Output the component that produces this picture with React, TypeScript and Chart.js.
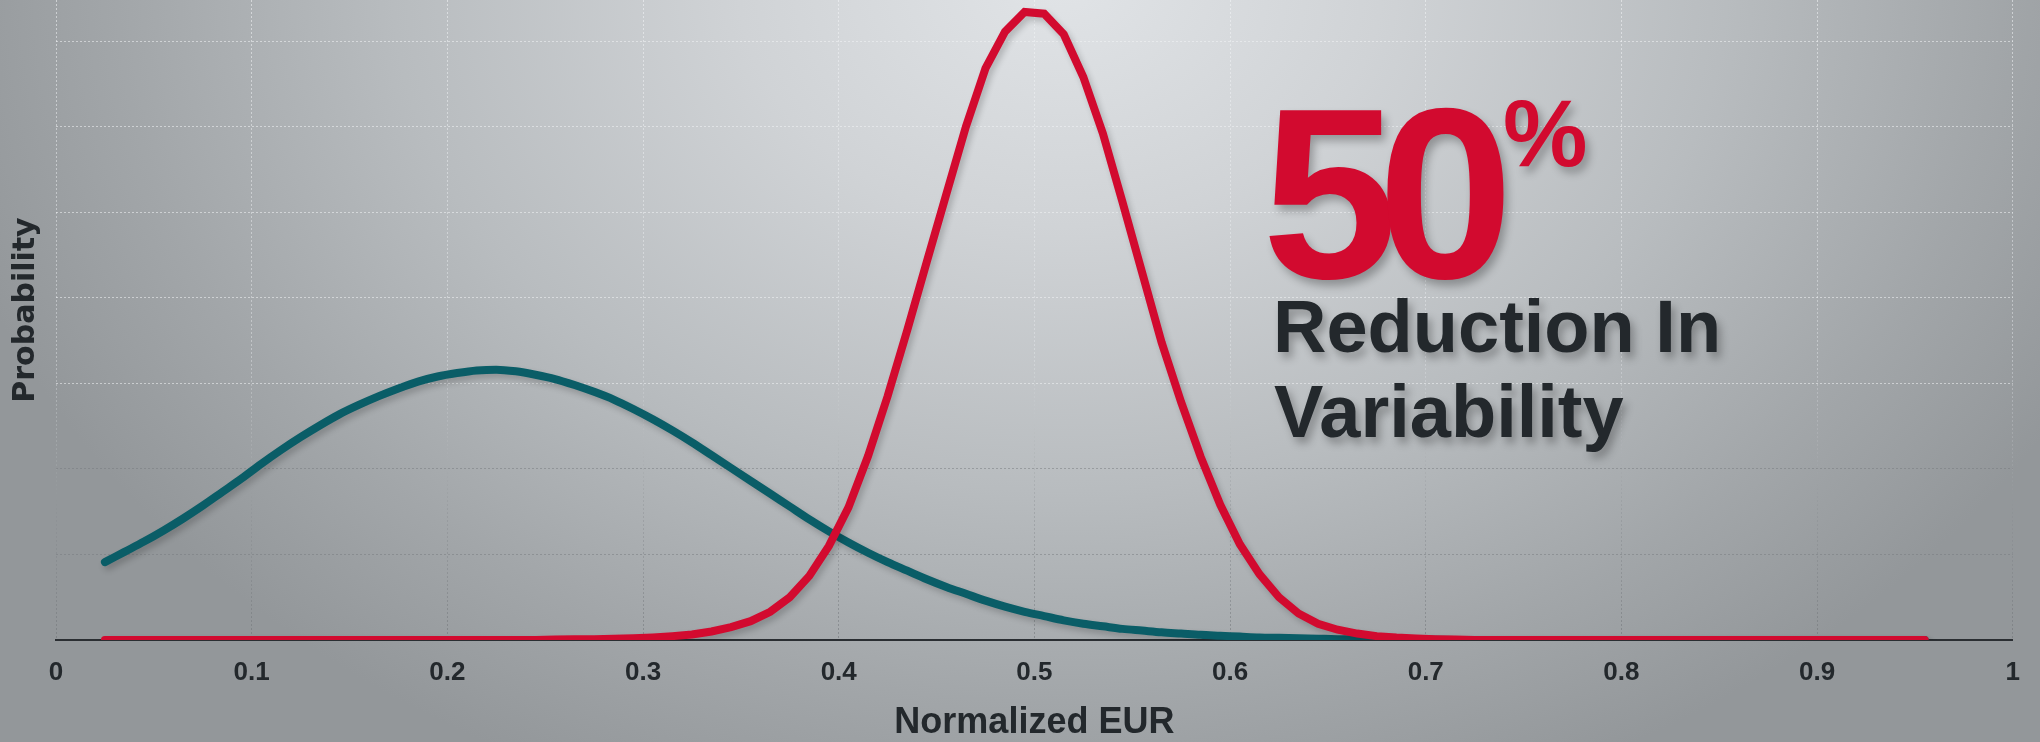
import React, { useEffect, useRef } from "react";
import { Chart, registerables } from "chart.js";

Chart.register(...registerables);

// Normalized EUR sample positions
const xValues = [
  0.025, 0.035, 0.045, 0.055, 0.065, 0.075, 0.085, 0.095, 0.105, 0.115,
  0.125, 0.135, 0.145, 0.155, 0.165, 0.175, 0.185, 0.195, 0.205, 0.215,
  0.225, 0.235, 0.245, 0.255, 0.265, 0.275, 0.285, 0.295, 0.305, 0.315,
  0.325, 0.335, 0.345, 0.355, 0.365, 0.375, 0.385, 0.395, 0.405, 0.415,
  0.425, 0.435, 0.445, 0.455, 0.465, 0.475, 0.485, 0.495, 0.505, 0.515,
  0.525, 0.535, 0.545, 0.555, 0.565, 0.575, 0.585, 0.595, 0.605, 0.615,
  0.625, 0.635, 0.645, 0.655, 0.665, 0.675, 0.685, 0.695, 0.705, 0.715,
  0.725, 0.735, 0.745, 0.755, 0.765, 0.775, 0.785, 0.795, 0.805, 0.815,
  0.825, 0.835, 0.845, 0.855, 0.865, 0.875, 0.885, 0.895, 0.905, 0.915,
  0.925, 0.935, 0.945, 0.955,
];

// Wide (teal) distribution
const tealValues = [
  0.91, 1.03, 1.15, 1.28, 1.42, 1.57, 1.73, 1.89, 2.06, 2.22,
  2.37, 2.51, 2.64, 2.75, 2.85, 2.94, 3.02, 3.08, 3.12, 3.15,
  3.16, 3.14, 3.10, 3.05, 2.98, 2.90, 2.81, 2.70, 2.58, 2.45,
  2.31, 2.16, 2.01, 1.86, 1.71, 1.56, 1.41, 1.27, 1.14, 1.02,
  0.91, 0.81, 0.71, 0.62, 0.54, 0.46, 0.39, 0.33, 0.28, 0.23,
  0.19, 0.16, 0.13, 0.11, 0.09, 0.075, 0.06, 0.05, 0.04, 0.03,
  0.025, 0.02, 0.015, 0.01, 0.008, 0.005, 0.004, 0.003, 0.002, 0.001,
  0, 0, 0, 0, 0, 0, 0, 0, 0, 0,
  0, 0, 0, 0, 0, 0, 0, 0, 0, 0,
  0, 0, 0, 0,
];

// Narrow (red) distribution
const redValues = [
  0, 0, 0, 0, 0, 0, 0, 0, 0, 0,
  0, 0, 0, 0, 0, 0, 0, 0, 0, 0,
  0, 0, 0, 0.005, 0.01, 0.01, 0.015, 0.02, 0.03, 0.045,
  0.065, 0.1, 0.15, 0.22, 0.33, 0.5, 0.75, 1.1, 1.55, 2.15,
  2.85, 3.62, 4.42, 5.21, 6.0, 6.68, 7.11, 7.34, 7.32, 7.08,
  6.58, 5.92, 5.12, 4.3, 3.48, 2.78, 2.14, 1.58, 1.12, 0.77,
  0.5, 0.31, 0.19, 0.12, 0.075, 0.045, 0.028, 0.017, 0.01, 0.005,
  0, 0, 0, 0, 0, 0, 0, 0, 0, 0,
  0, 0, 0, 0, 0, 0, 0, 0, 0, 0,
  0, 0, 0, 0,
];

const xTicks = [0, 0.1, 0.2, 0.3, 0.4, 0.5, 0.6, 0.7, 0.8, 0.9, 1];

const X_TITLE = "Normalized EUR";
const Y_TITLE = "Probability";
const BIG_NUMBER = "50";
const BIG_UNIT = "%";
const CAPTION_LINES = ["Reduction In", "Variability"];

const RED = "#d20a2f";
const TEAL = "#0a5d67";
const DARK = "#23282c";

const shadowPlugin = {
  id: "lineShadow",
  beforeDatasetsDraw(chart: any) {
    const ctx = chart.ctx;
    ctx.save();
    ctx.shadowColor = "rgba(0,0,0,0.2)";
    ctx.shadowBlur = 6;
    ctx.shadowOffsetX = 3;
    ctx.shadowOffsetY = 4;
  },
  afterDatasetsDraw(chart: any) {
    chart.ctx.restore();
  },
};

// y-axis title, placed beside the plot and centred on the visible plot height
const yTitlePlugin = {
  id: "yTitle",
  afterDraw(chart: any) {
    const ctx = chart.ctx;
    ctx.save();
    ctx.translate(34, 310);
    ctx.rotate(-Math.PI / 2);
    ctx.fillStyle = DARK;
    ctx.font = "bold 30px 'DejaVu Sans', Verdana, sans-serif";
    ctx.textAlign = "center";
    ctx.textBaseline = "alphabetic";
    ctx.fillText(Y_TITLE, 0, 0);
    ctx.restore();
  },
};

export default function App() {
  const canvasRef = useRef<HTMLCanvasElement | null>(null);

  useEffect(() => {
    const canvas = canvasRef.current;
    if (!canvas) return;

    const redData = xValues.map((x, i) => ({ x, y: redValues[i] }));
    const tealData = xValues.map((x, i) => ({ x, y: tealValues[i] }));

    const chart = new Chart(canvas, {
      type: "line",
      data: {
        datasets: [
          {
            label: "Improved",
            data: redData,
            borderColor: RED,
            borderWidth: 8,
            pointRadius: 0,
            tension: 0,
            fill: false,
            borderCapStyle: "round",
          },
          {
            label: "Baseline",
            data: tealData,
            borderColor: TEAL,
            borderWidth: 8,
            pointRadius: 0,
            cubicInterpolationMode: "monotone",
            fill: false,
            borderCapStyle: "round",
          },
        ],
      },
      options: {
        responsive: false,
        devicePixelRatio: 1,
        animation: false,
        events: [],
        layout: { padding: { top: 0, right: 24, bottom: 0, left: 0 } },
        plugins: {
          legend: { display: false },
          tooltip: { enabled: false },
        },
        scales: {
          x: {
            type: "linear",
            min: 0,
            max: 1,
            afterBuildTicks: (s: any) => {
              s.ticks = xTicks.map((v) => ({ value: v }));
            },
            afterFit: (s: any) => {
              s.height = 102;
            },
            ticks: {
              autoSkip: false,
              maxRotation: 0,
              padding: 20,
              color: DARK,
              font: {
                family: "'Liberation Sans', Arial, sans-serif",
                weight: "bold",
                size: 26,
                lineHeight: 1,
              },
              callback: (v: any) => String(v),
            },
            grid: {
              drawTicks: false,
              lineWidth: 1,
              color: (c: any) => {
                const g = c.chart.ctx.createLinearGradient(0, 0, 0, 640);
                g.addColorStop(0, "rgba(244,246,248,0.55)");
                g.addColorStop(0.55, "rgba(230,233,236,0.45)");
                g.addColorStop(0.8, "rgba(140,144,148,0.45)");
                g.addColorStop(1, "rgba(110,114,118,0.55)");
                return g;
              },
            },
            border: { display: true, color: "#2a2e32", width: 2, dash: [2, 2] },
            title: {
              display: true,
              text: X_TITLE,
              color: DARK,
              font: {
                family: "'Liberation Sans', Arial, sans-serif",
                weight: "bold",
                size: 36,
                lineHeight: 1,
              },
              padding: { top: 0, bottom: 1 },
            },
          },
          y: {
            type: "linear",
            min: 0,
            max: 7.48,
            afterFit: (s: any) => {
              s.width = 56;
            },
            ticks: { display: false, stepSize: 1 },
            grid: {
              drawTicks: false,
              lineWidth: 1,
              color: (c: any) => {
                const v = c.tick ? c.tick.value : 0;
                if (v === 0 || v % 1 !== 0) return "rgba(0,0,0,0)";
                if (v <= 2) return "rgba(118,122,126,0.5)";
                return "rgba(242,244,246,0.55)";
              },
            },
            border: { display: false, dash: [2, 2] },
            title: { display: false },
          },
        },
      },
      plugins: [shadowPlugin, yTitlePlugin],
    } as any);

    return () => {
      chart.destroy();
    };
  }, []);

  const textShadow = "4px 6px 8px rgba(0,0,0,0.28)";
  const base: React.CSSProperties = {
    position: "absolute",
    fontFamily: "'Liberation Sans', Arial, sans-serif",
    fontWeight: "bold",
    lineHeight: 1,
    whiteSpace: "nowrap",
    textShadow,
  };

  return (
    <div
      style={{
        position: "fixed",
        left: 0,
        top: 0,
        width: 2040,
        height: 742,
        overflow: "hidden",
        background:
          "radial-gradient(ellipse 1150px 880px at 1060px -20px, #e1e4e7 0%, #d0d3d6 28%, #b8bcbf 58%, #a2a6a9 82%, #93979a 100%)",
      }}
    >
      <canvas
        ref={canvasRef}
        width={2040}
        height={742}
        style={{ position: "absolute", left: 0, top: 0, width: 2040, height: 742 }}
      />
      <div style={{ ...base, left: 1262, top: 71.5, fontSize: 244, letterSpacing: -20, color: RED }}>
        {BIG_NUMBER}
      </div>
      <div style={{ ...base, left: 1503, top: 86, fontSize: 95, color: RED }}>{BIG_UNIT}</div>
      <div style={{ ...base, left: 1273, top: 290.4, fontSize: 74, color: DARK }}>{CAPTION_LINES[0]}</div>
      <div style={{ ...base, left: 1274, top: 375.4, fontSize: 74, color: DARK }}>{CAPTION_LINES[1]}</div>
    </div>
  );
}
